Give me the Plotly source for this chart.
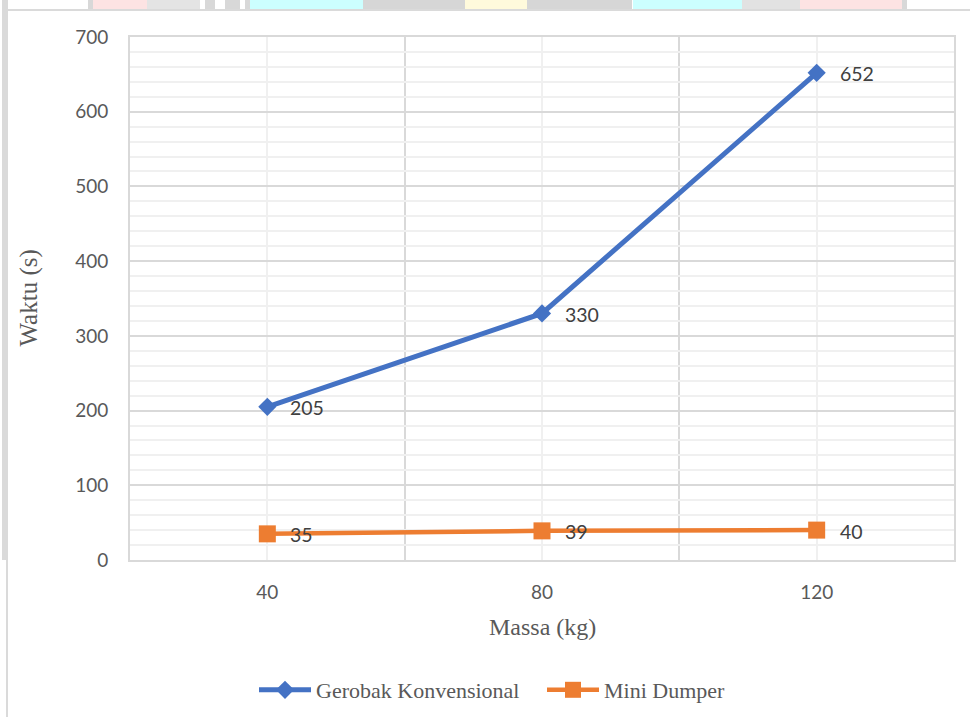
import plotly.graph_objects as go

# ---- data ----
massa = [40, 80, 120]
gerobak = [205, 330, 652]
dumper = [35, 39, 40]
y_ticks = [0, 100, 200, 300, 400, 500, 600, 700]
x_ticks = [40, 80, 120]

W, H = 970, 717
L, R, T, B = 130, 16, 37, 157
PW, PH = W - L - R, H - T - B

def px(x):
    return (x - L) / PW

def py(y):
    return (H - B - y) / PH

BLUE = "#4472C4"
ORANGE = "#ED7D31"

fig = go.Figure()
fig.add_trace(go.Scatter(
    x=massa, y=gerobak, name="Gerobak Konvensional", mode="lines+markers",
    line=dict(color=BLUE, width=5),
    marker=dict(symbol="diamond", size=14, color=BLUE),
))
fig.add_trace(go.Scatter(
    x=massa, y=dumper, name="Mini Dumper", mode="lines+markers",
    line=dict(color=ORANGE, width=4.5),
    marker=dict(symbol="square", size=17, color=ORANGE),
))

annotations = []
for xs, ys in ((massa, gerobak), (massa, dumper)):
    for x, y in zip(xs, ys):
        annotations.append(dict(
            x=x, y=y, xref="x", yref="y", text=str(y), showarrow=False,
            xanchor="left", yanchor="middle", xshift=21, yshift=-1,
            font=dict(family="Lato", size=19.5, color="#404040"),
        ))

annotations.append(dict(
    x=0.5, y=py(627), xref="paper", yref="paper", text="Massa (kg)",
    showarrow=False, xanchor="center", yanchor="middle",
    font=dict(family="Liberation Serif", size=24, color="#595959"),
))
annotations.append(dict(
    x=px(28), y=0.5, xref="paper", yref="paper", text="Waktu (s)",
    showarrow=False, xanchor="center", yanchor="middle", textangle=-90,
    font=dict(family="Liberation Serif", size=25, color="#595959"),
))

# decorative frame / background strip (pixel coords converted to paper)
shapes = []
def rect(x0, y0, x1, y1, color):
    shapes.append(dict(type="rect", xref="paper", yref="paper",
                       x0=px(x0), x1=px(x1), y0=py(y1), y1=py(y0),
                       fillcolor=color, line=dict(width=0), layer="below"))

strip = [
    (88, 93, "#d8d8d8"), (93, 147, "#fde3e3"), (147, 200, "#e4e4e4"),
    (205, 215, "#d8d8d8"), (225, 240, "#d8d8d8"), (245, 250, "#d8d8d8"),
    (250, 363, "#ccffff"), (363, 465, "#d6d6d6"), (465, 527, "#fffadc"),
    (527, 632, "#d6d6d6"), (633, 742, "#ccffff"), (742, 800, "#e2e2e2"),
    (800, 902, "#fde3e3"), (902, 907, "#d8d8d8"),
]
for x0, x1, c in strip:
    rect(x0, 0, x1, 9, c)
rect(2, 0, 8, 560, "#dadada")
rect(6, 560, 8, 717, "#dadada")
rect(6, 9, 970, 11, "#dadada")

fig.update_layout(
    width=W, height=H,
    margin=dict(l=L, r=R, t=T, b=B, autoexpand=False),
    paper_bgcolor="white", plot_bgcolor="white",
    showlegend=True,
    legend=dict(
        orientation="h", x=px(254), xanchor="left", y=py(690), yanchor="middle",
        font=dict(family="Liberation Serif", size=22, color="#595959"),
        itemwidth=52, entrywidth=221, entrywidthmode="pixels",
        tracegroupgap=0, bgcolor="rgba(0,0,0,0)",
    ),
    annotations=annotations,
    shapes=shapes,
    xaxis=dict(
        range=[20, 140], tickmode="array", tickvals=x_ticks,
        ticktext=[str(v) for v in x_ticks],
        showgrid=True, gridcolor="#f0f0f0", gridwidth=1.5,
        minor=dict(tickmode="array", tickvals=[20, 60, 100, 140],
                   showgrid=True, gridcolor="#d9d9d9", gridwidth=1.5),
        showline=True, mirror=True, linecolor="#d9d9d9", linewidth=2,
        zeroline=False, ticks="", ticklabelstandoff=14, automargin=False,
        tickfont=dict(family="Lato", size=19, color="#595959"),
    ),
    yaxis=dict(
        range=[0, 700], tickmode="array", tickvals=y_ticks,
        showgrid=True, gridcolor="#d9d9d9", gridwidth=1.5,
        minor=dict(dtick=20, tick0=0, showgrid=True, gridcolor="#f0f0f0", gridwidth=1.5),
        showline=True, mirror=True, linecolor="#d9d9d9", linewidth=2,
        zeroline=False, ticks="", ticklabelstandoff=16, automargin=False,
        tickfont=dict(family="Lato", size=19, color="#595959"),
    ),
)

fig.write_html("out.html")
